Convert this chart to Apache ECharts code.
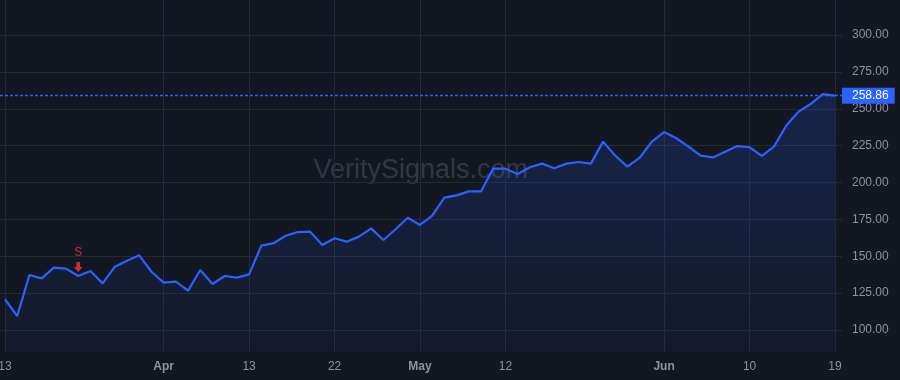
<!DOCTYPE html>
<html>
<head>
<meta charset="utf-8">
<script src="https://cdn.jsdelivr.net/npm/echarts@6/dist/echarts.min.js"></script>
<style>
html,body{margin:0;padding:0;background:#131722;}
#c{width:900px;height:380px;}
</style>
</head>
<body>
<div id="c"></div>
<script>
// ---- data ----
const dates = [
  '2024-03-13','2024-03-14','2024-03-15','2024-03-18','2024-03-19','2024-03-20','2024-03-21','2024-03-22','2024-03-25','2024-03-26',
  '2024-03-27','2024-03-28','2024-03-29','2024-04-01','2024-04-02','2024-04-03','2024-04-05','2024-04-08','2024-04-09','2024-04-11',
  '2024-04-13','2024-04-14','2024-04-15','2024-04-16','2024-04-18','2024-04-19','2024-04-20','2024-04-22','2024-04-23','2024-04-24',
  '2024-04-25','2024-04-26','2024-04-28','2024-04-29','2024-05-01','2024-05-02','2024-05-03','2024-05-06','2024-05-07','2024-05-08',
  '2024-05-10','2024-05-12','2024-05-13','2024-05-14','2024-05-15','2024-05-17','2024-05-18','2024-05-20','2024-05-21','2024-05-22',
  '2024-05-24','2024-05-25','2024-05-27','2024-05-29','2024-06-01','2024-06-03','2024-06-04','2024-06-05','2024-06-06','2024-06-07',
  '2024-06-08','2024-06-10','2024-06-11','2024-06-12','2024-06-13','2024-06-14','2024-06-17','2024-06-18','2024-06-19'
];
const prices = [
  120.8, 109.5, 137.3, 135.0, 142.3, 141.6, 136.6, 140.0, 131.6, 142.9,
  147.0, 150.6, 139.5, 132.1, 132.8, 126.7, 140.7, 131.2, 136.6, 135.5,
  137.7, 157.2, 158.8, 163.9, 166.4, 166.7, 157.6, 162.2, 159.9, 163.3,
  168.9, 161.0, 168.3, 176.1, 171.2, 177.5, 189.7, 191.3, 194.0, 194.0,
  209.4, 209.4, 205.8, 210.3, 212.8, 209.6, 212.8, 213.9, 212.8, 227.7,
  218.2, 210.7, 216.8, 227.7, 234.2, 230.0, 224.3, 218.2, 217.0, 220.9,
  224.7, 223.9, 218.0, 224.3, 238.5, 248.0, 253.2, 259.9, 258.86
];
const tickDates = ['2024-03-13','2024-04-01','2024-04-13','2024-04-22','2024-05-01','2024-05-12','2024-06-01','2024-06-10','2024-06-19'];
const monthStartDates = ['2024-04-01','2024-05-01','2024-06-01'];
const monthNames = ['Jan','Feb','Mar','Apr','May','Jun','Jul','Aug','Sep','Oct','Nov','Dec'];
const priceTickMin = 100, priceTickMax = 300, priceTickStep = 25;
const signalDate = '2024-03-21';
const signalText = 'S';
const lastPrice = 258.86;
const watermarkText = 'VeritySignals.com';

// ---- layout / style ----
const W = 900, H = 380;
const bg = '#131722';
const gridColor = '#242935';
const textColor = '#8e929b';
const lineColor = '#2962ff';
const sigColor = '#f23645';
const font = '"Liberation Sans", Arial, sans-serif';
const labTop = 35, labBottomPx = 330;
const pxPerUnit = (labBottomPx - labTop) / (priceTickMax - priceTickMin);
const dataTop = 0, dataBottomPx = 352;
const dataMax = priceTickMax + (labTop - dataTop) / pxPerUnit;
const dataMin = priceTickMin - (dataBottomPx - labBottomPx) / pxPerUnit;

const tickSet = new Set(tickDates);
const sigIdx = dates.indexOf(signalDate);

const chart = echarts.init(document.getElementById('c'), null, {renderer: 'canvas'});
chart.setOption({
  backgroundColor: bg,
  animation: false,
  textStyle: {fontFamily: font},
  graphic: [{
    type: 'text', z: 0, x: 420.8, y: 171,
    style: {text: watermarkText, font: '27px ' + font, fill: 'rgba(255,255,255,0.14)', textAlign: 'center', textVerticalAlign: 'middle'}
  }],
  grid: [
    {left: 5, right: 65, top: dataTop, bottom: H - dataBottomPx, containLabel: false, outerBoundsMode: 'none'},
    {left: 0, right: 58, top: labTop, bottom: H - labBottomPx, containLabel: false, outerBoundsMode: 'none'}
  ],
  xAxis: [
    {
      gridIndex: 0, type: 'category', data: dates, boundaryGap: false,
      axisLine: {show: false}, axisTick: {show: false},
      splitLine: {show: true, interval: (i, v) => tickSet.has(v), lineStyle: {color: gridColor, width: 1}},
      axisLabel: {
        interval: (i, v) => tickSet.has(v), margin: 9, color: textColor, fontSize: 12, fontFamily: font,
        formatter: v => {
          const p = v.split('-');
          if (monthStartDates.includes(v)) return '{m|' + monthNames[+p[1] - 1] + '}';
          return String(+p[2]);
        },
        rich: {m: {fontWeight: 'bold', color: textColor, fontSize: 12, fontFamily: font}}
      }
    },
    {gridIndex: 1, type: 'value', min: 0, max: 1, show: false}
  ],
  yAxis: [
    {gridIndex: 0, type: 'value', min: dataMin, max: dataMax, show: false, splitLine: {show: false}},
    {
      gridIndex: 1, type: 'value', position: 'right', min: priceTickMin, max: priceTickMax, interval: priceTickStep,
      axisLine: {show: false}, axisTick: {show: false},
      splitLine: {show: true, lineStyle: {color: gridColor, width: 1}},
      axisLabel: {margin: 10, color: textColor, fontSize: 12, fontFamily: font, formatter: v => v.toFixed(2)}
    }
  ],
  series: [
    {
      type: 'line', xAxisIndex: 0, yAxisIndex: 0, data: prices, symbol: 'none', z: 3,
      lineStyle: {color: lineColor, width: 2.2},
      areaStyle: {
        color: new echarts.graphic.LinearGradient(0, 0, 0, 1, [
          {offset: 0, color: 'rgba(41,98,255,0.26)'},
          {offset: 1, color: 'rgba(41,98,255,0.05)'}
        ])
      }
    },
    {
      type: 'scatter', xAxisIndex: 0, yAxisIndex: 0, z: 5,
      data: [[sigIdx, prices[sigIdx]]],
      symbol: 'path://M3,0 L7,0 L7,5 L10,5 L5,10 L0,5 L3,5 Z',
      symbolSize: [9, 10], symbolOffset: [0, -9],
      itemStyle: {color: sigColor},
      label: {show: true, position: 'top', distance: 3, formatter: signalText, color: sigColor, fontSize: 12, fontFamily: font}
    },
    {
      type: 'line', xAxisIndex: 1, yAxisIndex: 1, data: [], symbol: 'none',
      markLine: {
        silent: true, symbol: 'none', animation: false,
        lineStyle: {color: lineColor, width: 1.4, type: [3, 2], opacity: 1},
        label: {
          show: true, position: 'end', distance: 0,
          formatter: p => p.value.toFixed(2),
          color: '#ffffff', backgroundColor: lineColor, fontSize: 12, fontFamily: font,
          padding: [2, 6, 1, 10], lineHeight: 13
        },
        data: [{yAxis: lastPrice}]
      }
    }
  ]
});
</script>
</body>
</html>
